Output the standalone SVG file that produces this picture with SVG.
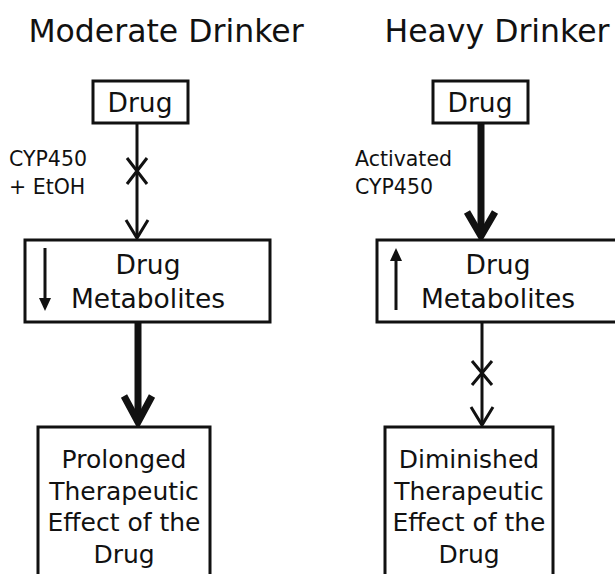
<svg xmlns="http://www.w3.org/2000/svg" width="615" height="574" viewBox="0 0 615 574">
  <style>
    text { font-family: "DejaVu Sans", "Open Sans", sans-serif; fill: #111; text-anchor: middle; }
    .title { font-size: 31.5px; }
    .box { fill: #fff; stroke: #111; stroke-width: 3; }
    .lbl { font-size: 26.5px; }
    .eff { font-size: 25px; }
    .side { font-size: 20.5px; text-anchor: start; }
    .thin { stroke: #111; stroke-width: 3; fill: none; }
    .thick { stroke: #111; stroke-width: 7; fill: none; }
  </style>

  <text class="title" x="166" y="42">Moderate Drinker</text>
  <text class="title" x="497" y="42">Heavy Drinker</text>

  <!-- connectors -->
  <g id="connectors">
    <!-- moderate: Drug -> Metabolites (blocked) -->
    <line class="thin" x1="137" y1="123" x2="137" y2="238"/>
    <path class="thin" d="M126,220 L137,238 L148,220"/>
    <path class="thin" d="M127,158 L147,184 M147,158 L127,184"/>
    <!-- moderate: Metabolites -> Effect (strong) -->
    <line class="thick" x1="138" y1="322" x2="138" y2="422"/>
    <path class="thick" stroke-linejoin="miter" d="M124,396 L138,422 L152,396"/>
    <!-- heavy: Drug -> Metabolites (strong) -->
    <line class="thick" x1="481" y1="123" x2="481" y2="236"/>
    <path class="thick" d="M467,212 L481,236 L495,212"/>
    <!-- heavy: Metabolites -> Effect (blocked) -->
    <line class="thin" x1="482" y1="322" x2="482" y2="425"/>
    <path class="thin" d="M471,407 L482,425 L493,407"/>
    <path class="thin" d="M472,361 L492,385 M492,361 L472,385"/>
  </g>

  <text class="side" x="9" y="166">CYP450</text>
  <text class="side" x="9" y="194">+ EtOH</text>
  <text class="side" x="355" y="166">Activated</text>
  <text class="side" x="355" y="194">CYP450</text>

  <g id="drug-moderate">
    <rect class="box" x="93" y="81" width="95" height="42"/>
    <text class="lbl" x="140" y="112">Drug</text>
  </g>
  <g id="drug-heavy">
    <rect class="box" x="433" y="81" width="95" height="42"/>
    <text class="lbl" x="480" y="112">Drug</text>
  </g>

  <g id="metabolites-moderate">
    <rect class="box" x="25" y="240" width="245" height="82"/>
    <line class="thin" x1="45" y1="248" x2="45" y2="300"/>
    <path d="M39,298 L45,311 L51,298 z" fill="#111"/>
    <text class="lbl" x="148" y="274">Drug</text>
    <text class="lbl" x="148" y="308">Metabolites</text>
  </g>
  <g id="metabolites-heavy">
    <rect class="box" x="377" y="240" width="250" height="82"/>
    <line class="thin" x1="396" y1="310" x2="396" y2="258"/>
    <path d="M390,261 L396,248 L402,261 z" fill="#111"/>
    <text class="lbl" x="498" y="274">Drug</text>
    <text class="lbl" x="498" y="308">Metabolites</text>
  </g>

  <g id="effect-moderate">
    <rect class="box" x="38" y="427" width="172" height="160"/>
    <text class="eff" x="124" y="468">Prolonged</text>
    <text class="eff" x="124" y="500">Therapeutic</text>
    <text class="eff" x="124" y="531">Effect of the</text>
    <text class="eff" x="124" y="563">Drug</text>
  </g>
  <g id="effect-heavy">
    <rect class="box" x="385" y="427" width="168" height="160"/>
    <text class="eff" x="469" y="468">Diminished</text>
    <text class="eff" x="469" y="500">Therapeutic</text>
    <text class="eff" x="469" y="531">Effect of the</text>
    <text class="eff" x="469" y="563">Drug</text>
  </g>
</svg>
